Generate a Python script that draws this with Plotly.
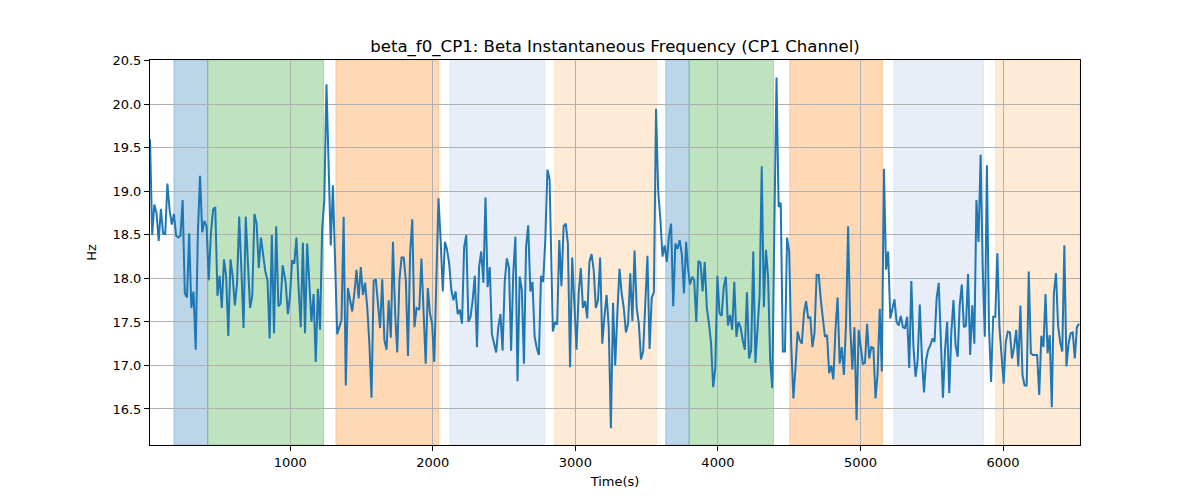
import numpy as np
import plotly.graph_objects as go

# ---- data: signal read in seven consecutive stretches, each sampled evenly ----
seg1_values = [
    19.6, 18.5, 18.85, 18.75, 18.43, 18.8, 18.52, 18.51, 19.09, 18.79, 18.62, 18.74, 18.49, 18.47, 18.49, 18.9,
    17.83, 17.78, 18.52, 17.66, 17.85, 17.18, 18.52, 19.18, 18.53, 18.66, 18.6, 17.98, 18.52, 18.79, 18.82, 17.8,
    18.03, 17.66, 18.22, 18.02, 17.34, 18.22, 18.02, 17.69, 17.94, 18.71, 18.1, 17.43, 18.71, 18.15, 17.66, 17.8,
    18.74, 18.63, 18.12, 18.47, 18.27, 18.08, 17.98, 17.31, 18.5, 17.37, 18.6, 17.68, 17.71, 18.15,
]
seg2_values = [
    17.95, 17.59, 17.8, 18.21, 18.17, 18.47, 17.9, 17.44, 18.41, 17.37, 18.4, 17.98, 17.5, 17.82, 17.04, 17.88,
    17.41, 18.57, 18.9, 20.23, 19.36, 18.38, 19.07, 18.13, 17.36, 17.44, 17.52, 18.71, 16.77, 17.89, 17.75, 17.62,
    17.83, 18.1, 17.77, 18.13, 17.81, 17.95, 17.67, 17.25, 16.63, 17.97, 17.99, 17.75, 17.43, 17.99, 17.29, 17.18,
    17.75, 17.32, 18.42, 17.6, 17.15, 17.98, 18.24, 18.24, 17.98, 17.11, 18.29, 18.68, 17.44, 17.66,
]
seg3_values = [
    17.64, 18.23, 17.6, 17.02, 17.89, 17.6, 17.48, 17.04, 17.98, 18.92, 18.44, 17.85, 18.42, 18.33, 18.17, 17.87,
    17.75, 17.85, 17.59, 17.64, 17.48, 18.36, 18.5, 17.5, 17.56, 17.75, 18.03, 17.21, 18.13, 18.31, 17.95, 18.93,
    17.9, 18.13, 17.36, 17.25, 17.15, 17.44, 17.59, 17.17, 17.96, 18.23, 18.12, 17.17, 18.06, 18.48, 16.82, 18.02,
    17.87, 17.02, 18.36, 18.61, 17.85, 17.96, 17.33, 17.2, 17.12, 18.03, 17.96, 18.44, 19.25, 19.14,
]
seg4_values = [
    17.39, 17.5, 17.47, 18.44, 17.91, 18.6, 18.63, 18.4, 16.98, 18.24, 17.75, 17.18, 17.83, 18.12, 17.66, 17.74,
    17.54, 18.19, 18.28, 18.1, 17.66, 17.75, 18.24, 17.25, 17.56, 17.81, 17.44, 16.28, 17.72, 17.0, 17.6, 18.11,
    17.83, 17.66, 17.38, 17.48, 18.06, 17.51, 18.32, 17.66, 17.48, 17.07, 17.16, 17.75, 18.26, 17.19, 17.78, 17.84,
    19.95, 19.0, 18.69, 18.25, 18.38, 18.19, 18.48, 18.63, 17.68, 18.4, 18.34, 18.44, 18.28, 17.83, 18.42,
]
seg5_values = [
    18.13, 17.93, 18.02, 17.98, 17.5, 18.2, 18.18, 17.85, 18.19, 17.66, 17.48, 17.25, 16.75, 16.97, 18.03, 17.6,
    17.57, 17.9, 18.02, 17.46, 17.58, 17.41, 17.96, 17.33, 17.5, 17.44, 17.29, 17.18, 17.84, 17.08, 17.18, 18.31,
    17.03, 17.48, 17.81, 19.29, 17.67, 18.33, 18.02, 17.06, 16.74, 18.63, 20.31, 18.82, 18.87, 17.16, 17.16, 18.47,
    18.31, 17.21, 16.62, 16.98, 17.39, 17.29, 17.25, 17.6, 17.74, 17.54, 17.56, 17.21, 17.37, 18.04, 18.04, 17.75,
]
seg6_values = [
    17.56, 17.33, 17.35, 16.91, 17.0, 16.84, 17.41, 17.78, 17.02, 17.21, 16.89, 17.47, 18.6, 17.44, 16.95, 17.44,
    16.37, 17.41, 17.21, 17.02, 17.03, 17.48, 17.08, 17.21, 17.2, 16.62, 16.91, 17.65, 16.93, 19.26, 18.1, 18.31,
    17.54, 17.67, 17.76, 17.5, 17.46, 17.57, 17.44, 17.43, 17.56, 16.97, 17.97, 17.21, 16.87, 17.06, 17.7, 17.1,
    16.69, 17.06, 17.18, 17.23, 17.31, 17.27, 17.77, 17.95, 17.33, 16.63, 17.18, 17.5, 16.68, 17.39, 17.75, 17.23, 17.1,
]
seg7_values = [
    17.69, 17.93, 17.44, 17.46, 18.05, 17.12, 17.69, 17.25, 18.9, 18.42, 19.42, 18.12, 17.33, 19.3, 17.44, 16.81,
    17.56, 17.56, 18.29, 17.44, 17.1, 16.79, 17.27, 17.39, 17.38, 17.08, 17.21, 17.41, 16.99, 17.69, 16.89, 16.77,
    16.77, 18.08, 17.14, 17.12, 17.12, 17.12, 16.66, 17.34, 17.21, 17.82, 17.14, 17.35, 16.52, 17.83, 18.06, 17.46,
    17.27, 17.16, 18.38, 16.99, 17.25, 17.37, 17.38, 17.08, 17.44, 17.48,
]
# first / last time (s) of each stretch
seg_time_bounds = [(16, 947), (968, 1886), (1905, 2819), (2842, 3777),
                   (3789, 4722), (4736, 5682), (5696, 6533)]

segments = [seg1_values, seg2_values, seg3_values, seg4_values,
            seg5_values, seg6_values, seg7_values]
times = np.concatenate([np.linspace(a, b, len(v)) for (a, b), v in zip(seg_time_bounds, segments)])
values = np.concatenate(segments)

span_starts = [184, 421, 1320, 2120, 2855, 3634, 3798, 4504, 5234, 5948]
span_ends = [421, 1234, 2041, 2784, 3569, 3798, 4390, 5154, 5862, 6540]
span_colors = ["31,119,180", "44,160,44", "255,127,14", "174,199,232", "255,187,120",
               "31,119,180", "44,160,44", "255,127,14", "174,199,232", "255,187,120"]

y_ticks = [16.5, 17.0, 17.5, 18.0, 18.5, 19.0, 19.5, 20.0, 20.5]
x_ticks = [1000, 2000, 3000, 4000, 5000, 6000]

# ---- figure ----
fig = go.Figure()
fig.add_trace(go.Scatter(x=times, y=values, mode="lines",
                         line=dict(color="#1f77b4", width=2), showlegend=False))

for s, e, c in zip(span_starts, span_ends, span_colors):
    fig.add_shape(type="rect", xref="x", yref="paper", x0=s, x1=e, y0=0, y1=1,
                  fillcolor=f"rgba({c},0.3)", line=dict(color=f"rgba({c},0.3)", width=1),
                  layer="below")

fig.update_layout(
    width=1200, height=500,
    margin=dict(l=142, r=128, t=52, b=63),
    paper_bgcolor="white", plot_bgcolor="white",
    font=dict(family="DejaVu Sans", size=13, color="black"),
    title=dict(text="beta_f0_CP1: Beta Instantaneous Frequency (CP1 Channel)",
               x=607 / 1200, xanchor="center", y=1 - 38 / 500, yanchor="middle",
               yref="container", font=dict(size=16.6, color="black")),
)
fig.update_xaxes(range=[16, 6540], tickvals=x_ticks, showgrid=True,
                 gridcolor="#b0b0b0", gridwidth=1, showline=True, linecolor="black",
                 linewidth=1, mirror=True, ticks="outside", ticklen=5, tickcolor="black",
                 zeroline=False, title=dict(text="Time(s)", standoff=8, font=dict(size=13)))
fig.update_yaxes(range=[16.086, 20.51], tickvals=y_ticks, tickformat=".1f", showgrid=True,
                 gridcolor="#b0b0b0", gridwidth=1, showline=True, linecolor="black",
                 linewidth=1, mirror=True, ticks="outside", ticklen=5, tickcolor="black",
                 zeroline=False, title=dict(text="Hz", standoff=12, font=dict(size=13)))

fig.write_html("out.html")
